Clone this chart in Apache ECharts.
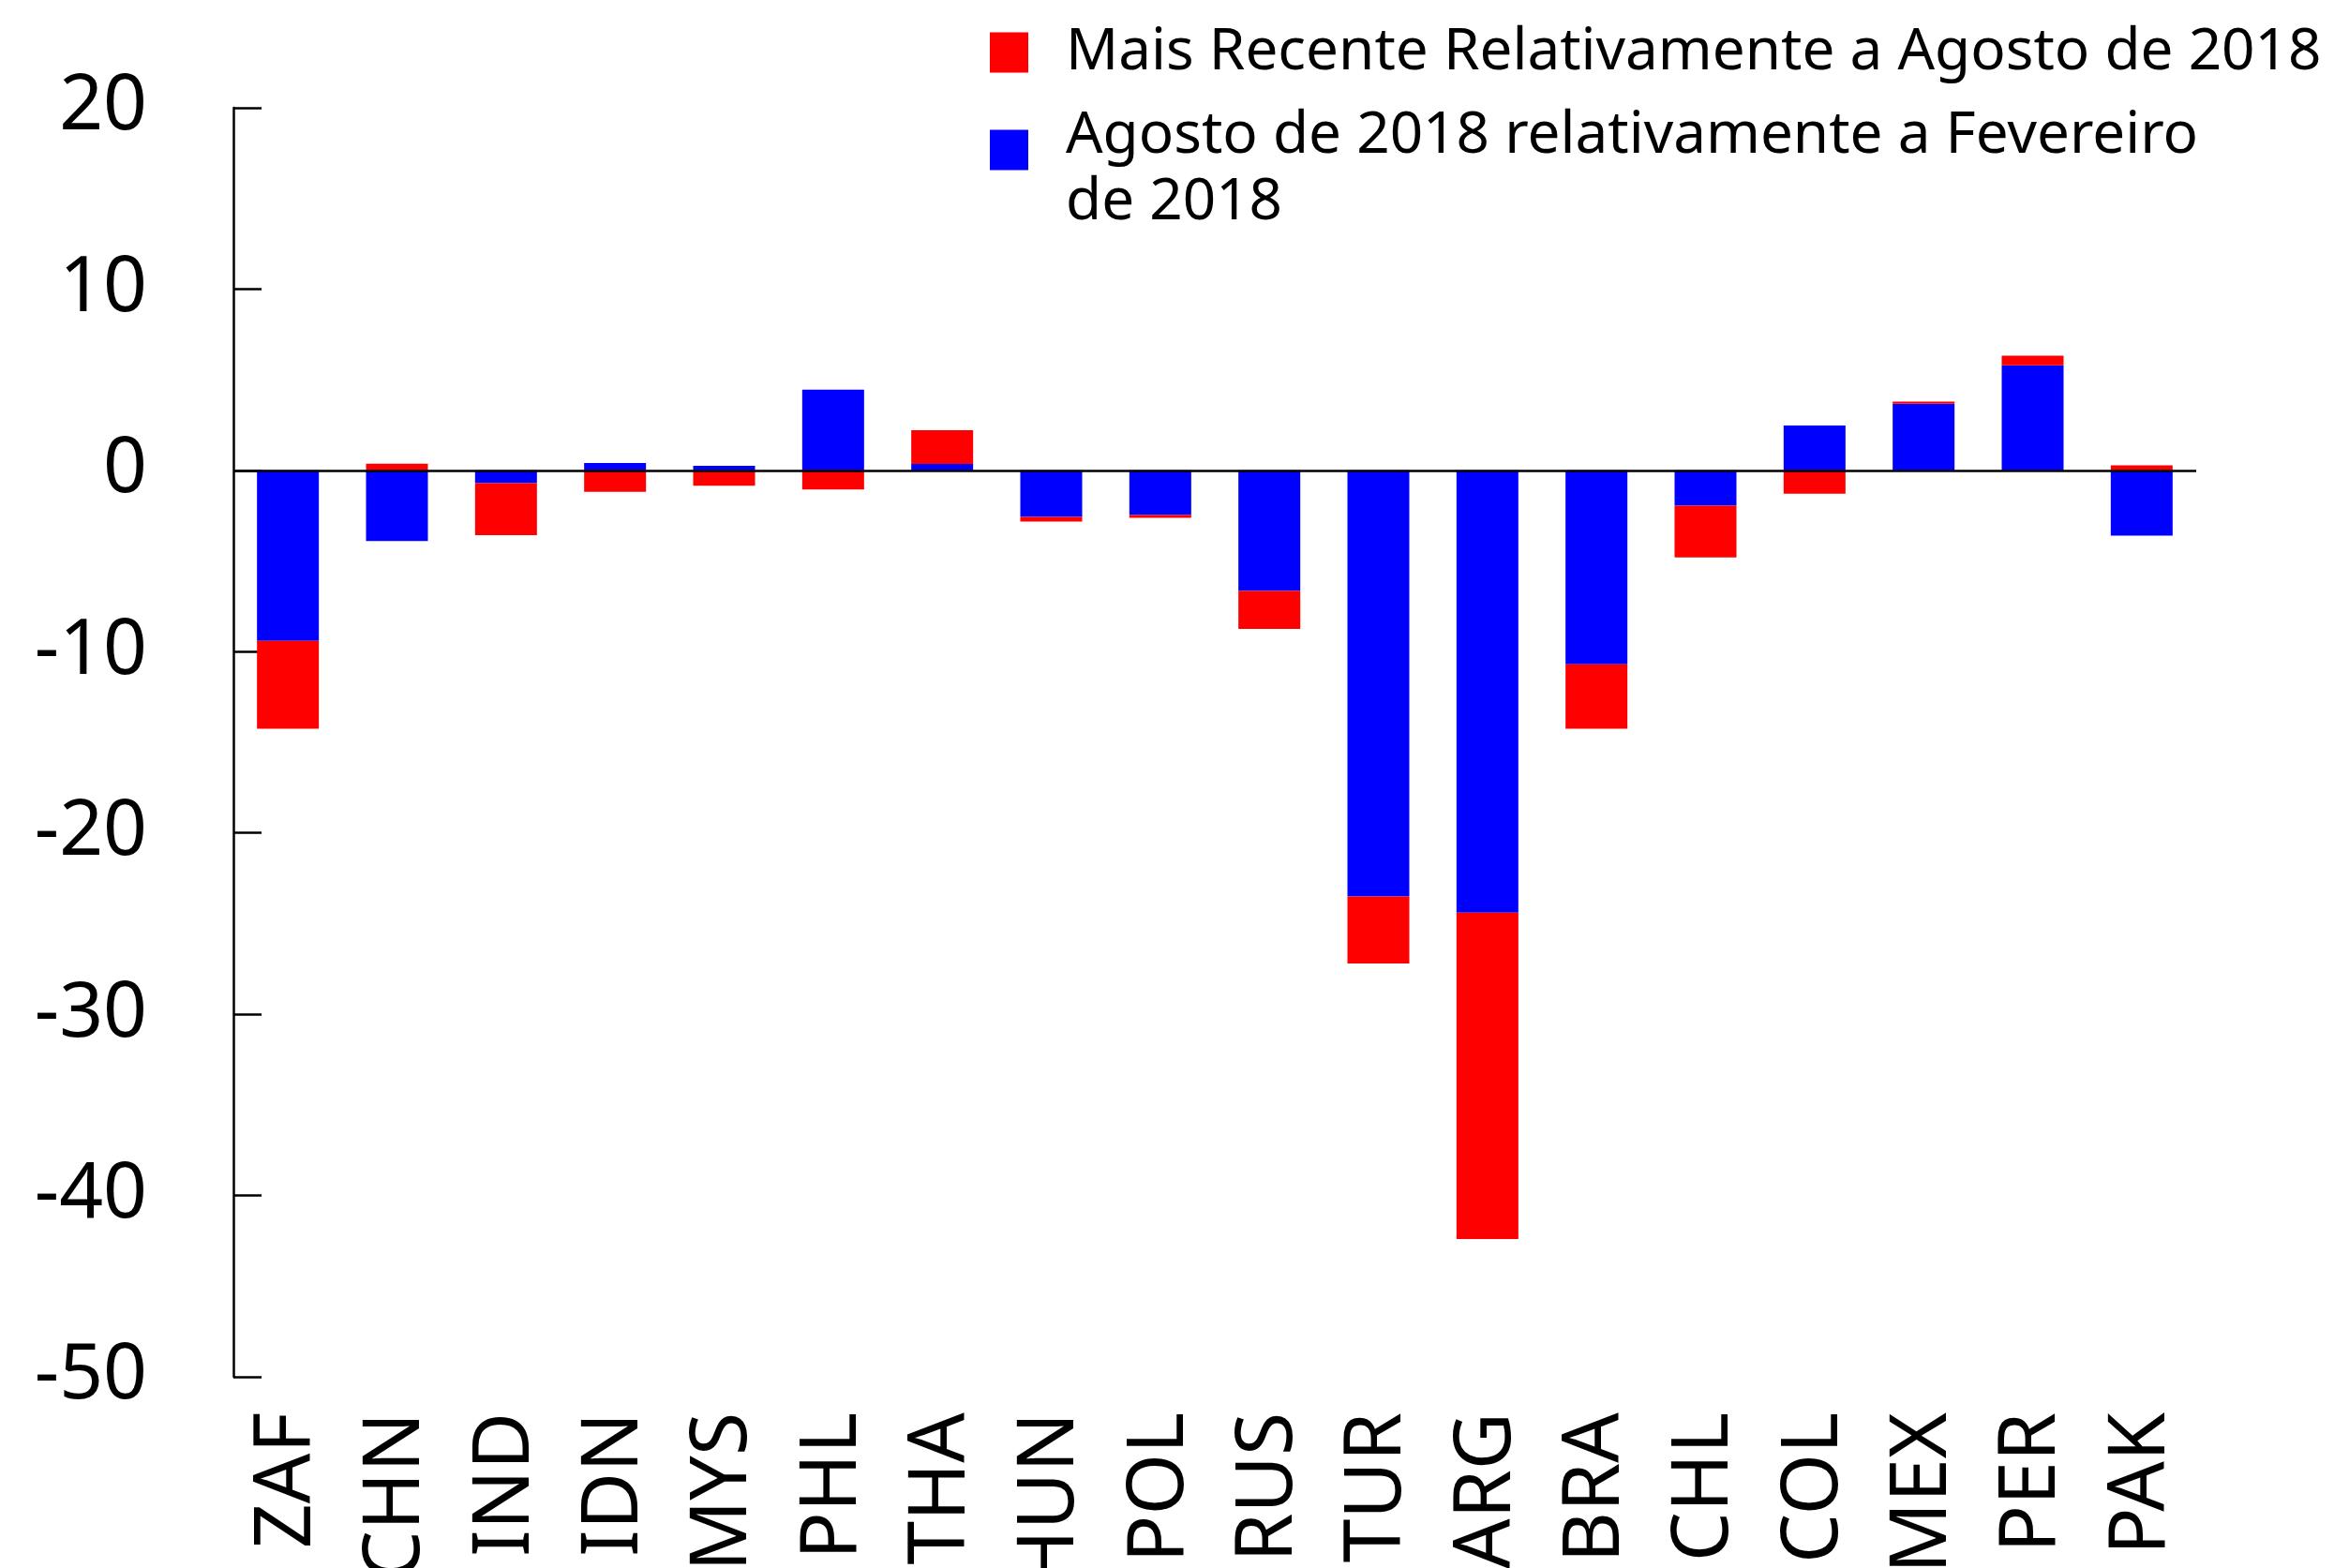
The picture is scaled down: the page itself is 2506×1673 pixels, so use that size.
<!DOCTYPE html>
<html>
<head>
<meta charset="utf-8">
<title>chart</title>
<script src="https://cdn.jsdelivr.net/npm/echarts@6/dist/echarts.min.js"></script>
<style>
    html, body { margin: 0; padding: 0; background: #fff; }
    #main { width: 2506px; height: 1673px; }
</style>
</head>
<body>
<div id="main"></div>
<script>
// 数据
var countries = ['ZAF', 'CHN', 'IND', 'IDN', 'MYS', 'PHL', 'THA', 'HUN', 'POL', 'RUS', 'TUR', 'ARG', 'BRA', 'CHL', 'COL', 'MEX', 'PER', 'PAK'];
// Agosto de 2018 relativamente a Fevereiro de 2018
var augVsFeb = [-9.4, -3.9, -0.7, 0.4, 0.25, 4.45, 0.35, -2.57, -2.46, -6.65, -23.5, -24.4, -10.7, -1.95, 2.48, 3.67, 5.79, -3.6];
// Mais Recente Relativamente a Agosto de 2018
var recentVsAug = [-4.85, 0.37, -2.88, -1.18, -0.85, -1.06, 1.86, -0.25, -0.16, -2.1, -3.7, -18.0, -3.55, -2.85, -1.29, 0.12, 0.53, 0.28];
var yTicks = { min: -50, max: 20, step: 10 };

var nameRed = 'Mais Recente Relativamente a Agosto de 2018';
var nameBlue = 'Agosto de 2018 relativamente a Fevereiro de 2018';

var chart = echarts.init(document.getElementById('main'));

chart.setOption({
    animation: false,
    backgroundColor: '#ffffff',
    grid: { left: 249, right: 163, top: 115, bottom: 204, containLabel: false, outerBoundsMode: 'none' },
    legend: {
        orient: 'vertical',
        left: 1056,
        top: 25,
        padding: 0,
        itemGap: 27,
        itemWidth: 41,
        itemHeight: 43,
        icon: 'rect',
        selectedMode: false,
        data: [nameRed, nameBlue],
        textStyle: {
            fontFamily: 'Noto Sans',
            fontSize: 62,
            color: '#000',
            padding: [0, 0, 0, 35],
            rich: {
                r: { fontFamily: 'Noto Sans', fontSize: 62, color: '#000', lineHeight: 43 },
                a: { fontFamily: 'Noto Sans', fontSize: 62, color: '#000', lineHeight: 112 },
                b: { fontFamily: 'Noto Sans', fontSize: 62, color: '#000', lineHeight: 30 }
            }
        },
        formatter: function (name) {
            if (name == nameBlue) {
                // 第一行与图标对齐
                return '{a|Agosto de 2018 relativamente a Fevereiro}\n{b|de 2018}';
            }
            return '{r|' + name + '}';
        }
    },
    xAxis: {
        type: 'category',
        data: countries,
        axisLine: { show: false },
        axisTick: { show: false },
        axisLabel: {
            rotate: 90,
            margin: 38,
            interval: 0,
            fontFamily: 'Noto Sans',
            fontSize: 84,
            color: '#000'
        }
    },
    yAxis: {
        type: 'value',
        min: yTicks.min,
        max: yTicks.max,
        interval: yTicks.step,
        splitLine: { show: false },
        axisLine: { show: true, lineStyle: { color: '#000', width: 2.5 } },
        axisTick: { show: true, inside: true, length: 30, lineStyle: { color: '#000', width: 2.5 } },
        axisLabel: { margin: 92, fontFamily: 'Noto Sans', fontSize: 82, color: '#000' }
    },
    series: [
        {
            name: nameBlue,
            type: 'bar',
            stack: 'total',
            barWidth: 66,
            itemStyle: { color: '#0000ff' },
            data: augVsFeb,
            markLine: {
                silent: true,
                symbol: 'none',
                label: { show: false },
                lineStyle: { color: '#000', width: 2.5, type: 'solid' },
                data: [{ yAxis: 0 }]
            }
        },
        {
            name: nameRed,
            type: 'bar',
            stack: 'total',
            barWidth: 66,
            itemStyle: { color: '#ff0000' },
            data: recentVsAug
        }
    ]
});
</script>
</body>
</html>
